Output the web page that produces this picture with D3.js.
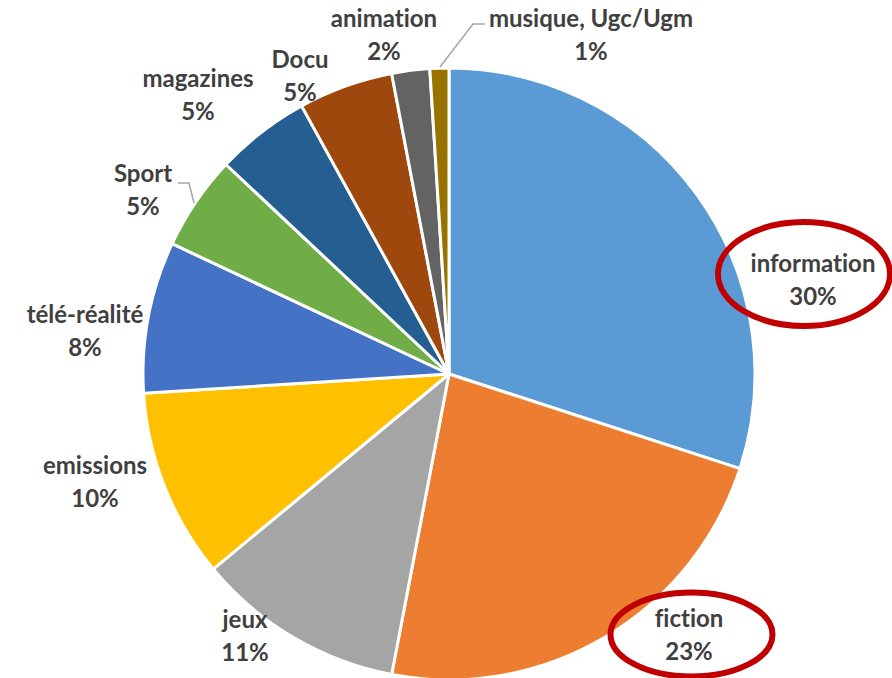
<!DOCTYPE html>
<html lang="fr">
<head>
<meta charset="utf-8">
<script src="https://cdn.jsdelivr.net/npm/d3@7"></script>
<style>
  html, body { margin: 0; padding: 0; background: #fff; }
  svg { display: block; }
  .lbl { font-family: Lato, "Open Sans", sans-serif; font-weight: 700; font-size: 24px; fill: #404040;
         font-variant-ligatures: none; }
</style>
</head>
<body>
<svg id="chart" width="892" height="678"></svg>
<script>
// Genres, share of programming (%)
const categories = ["information", "fiction", "jeux", "emissions", "télé-réalité",
                    "Sport", "magazines", "Docu", "animation", "musique, Ugc/Ugm"];
const shares = [30, 23, 11, 10, 8, 5, 5, 5, 2, 1];
const colors = ["#5B9BD5", "#ED7D31", "#A5A5A5", "#FFC000", "#4472C4",
                "#70AD47", "#255E91", "#9E480E", "#636363", "#997300"];
// Genres highlighted with a red ring
const highlighted = ["information", "fiction"];

// Layout
const W = 892, H = 678;
const cx = 449, cy = 374, radius = 306;
const lineGap = 33;
// first-line baseline of each label (centered)
const labelSpots = [
  [813, 272], [689, 627], [245, 628], [95, 474], [85, 323],
  [143, 182], [198, 87], [300, 68], [384, 27], [591, 27]
];
// leader lines for the labels that sit away from their slice
const leaders = {
  "Sport": [[178, 183], [189, 183], [194, 203]],
  "musique, Ugc/Ugm": [[485, 24], [473, 24], [440, 67]]
};
// rings around highlighted labels: [cx, cy, rx, ry]
const rings = {
  "information": [804, 274, 86, 52],
  "fiction": [691.5, 634.5, 81, 42]
};

const svg = d3.select("#chart");
const data = categories.map((c, i) => ({ name: c, value: shares[i], color: colors[i] }));

const pie = d3.pie().value(d => d.value).sort(null).startAngle(0).endAngle(2 * Math.PI);
const arc = d3.arc().innerRadius(0).outerRadius(radius);

const g = svg.append("g").attr("transform", `translate(${cx},${cy})`);
g.selectAll("path.slice")
  .data(pie(data))
  .join("path")
  .attr("class", "slice")
  .attr("d", arc)
  .attr("fill", d => d.data.color)
  .attr("stroke", "#fff")
  .attr("stroke-width", 3)
  .attr("stroke-linejoin", "round");

// leader lines
const line = d3.line();
Object.entries(leaders).forEach(([name, pts]) => {
  svg.append("path")
    .attr("d", line(pts))
    .attr("fill", "none")
    .attr("stroke", "#A6A6A6")
    .attr("stroke-width", 1.5);
});

// labels: name + percentage
const lbl = svg.selectAll("text.lbl")
  .data(data)
  .join("text")
  .attr("class", "lbl")
  .attr("text-anchor", "middle")
  .attr("x", (d, i) => labelSpots[i][0])
  .attr("y", (d, i) => labelSpots[i][1]);
lbl.append("tspan").text(d => d.name);
lbl.append("tspan")
  .attr("x", (d, i) => labelSpots[i][0])
  .attr("dy", lineGap)
  .text(d => d3.format("d")(d.value) + "%");

// red rings
highlighted.forEach(name => {
  const [ex, ey, rx, ry] = rings[name];
  svg.append("ellipse")
    .attr("cx", ex).attr("cy", ey)
    .attr("rx", rx).attr("ry", ry)
    .attr("fill", "none")
    .attr("stroke", "#C00000")
    .attr("stroke-width", 6);
});
</script>
</body>
</html>
